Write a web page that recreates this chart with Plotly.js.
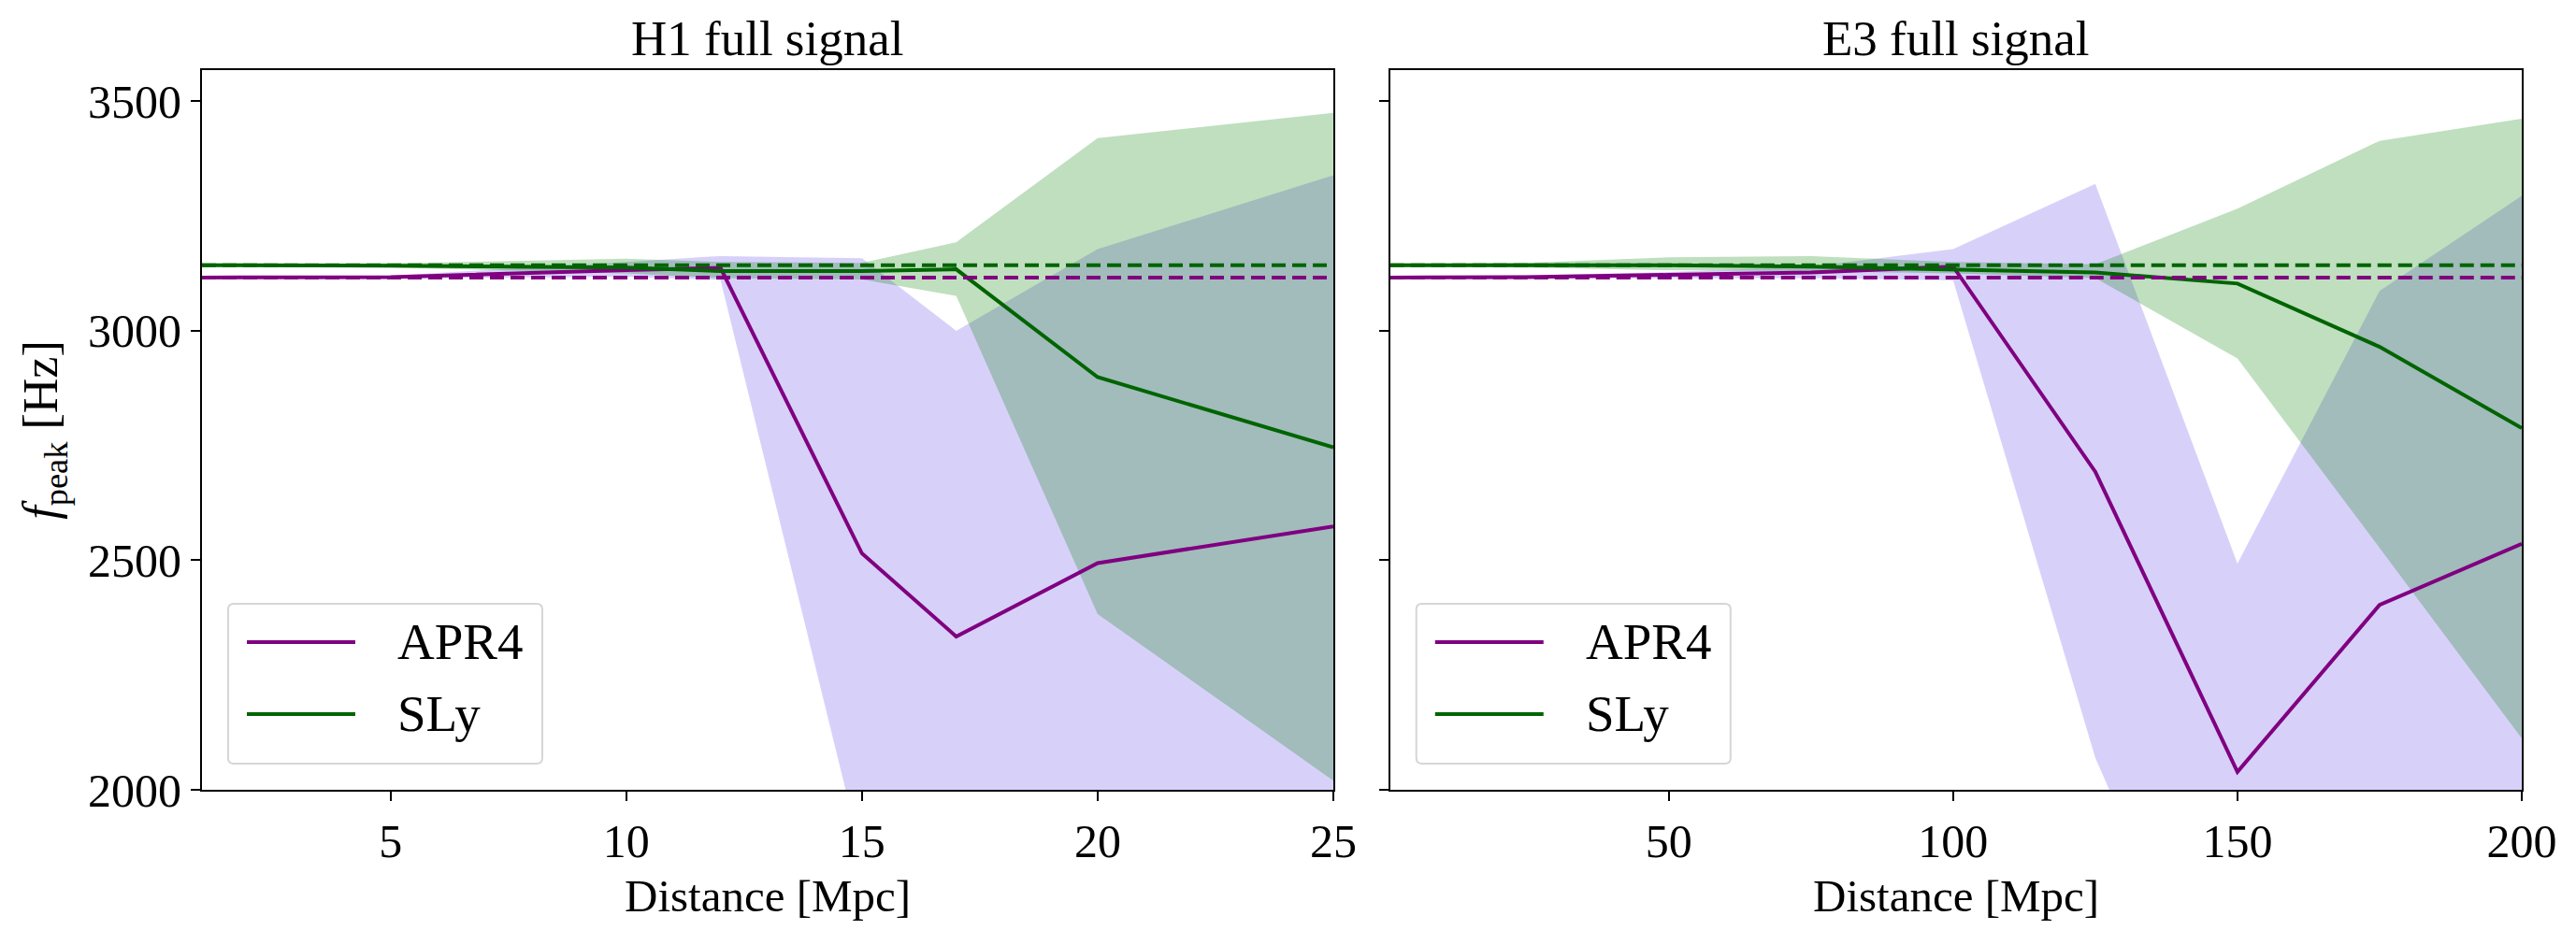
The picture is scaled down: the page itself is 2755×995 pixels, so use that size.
<!DOCTYPE html>
<html>
<head>
<meta charset="utf-8">
<script src="https://cdn.plot.ly/plotly-3.0.1.min.js"></script>
<style>
  html, body { margin: 0; padding: 0; background: #fff; }
  #chart { width: 2755px; height: 995px; }
</style>
</head>
<body>
<div id="chart"></div>
<script>
// ---------- H1 panel data ----------
const h1Dist = [1, 5, 10, 12, 15, 17, 20, 25];
const h1APR4 = [3116, 3117, 3132, 3137, 2515, 2334, 2494, 2574];
const h1APR4Upper = [3119, 3120, 3150, 3163, 3158, 3000, 3178, 3339];
const h1APR4Lower = [3113, 3114, 3118, 3111, 1855, 1700, 1750, 1800];
const h1SLy = [3143, 3142, 3138, 3130, 3130, 3134, 2899, 2746];
const h1SLyUpper = [3145, 3147, 3157, 3150, 3148, 3193, 3420, 3475];
const h1SLyLower = [3140, 3138, 3125, 3115, 3112, 3076, 2383, 2020];

// ---------- E3 panel data ----------
const e3Dist = [1, 25, 50, 75, 100, 125, 150, 175, 200];
const e3APR4 = [3116, 3117, 3122, 3127, 3140, 2693, 2039, 2403, 2536];
const e3APR4Upper = [3119, 3121, 3128, 3140, 3178, 3320, 2493, 3087, 3294];
const e3APR4Lower = [3113, 3113, 3114, 3115, 3110, 2070, 1360, 1500, 1600];
const e3SLy = [3143, 3143, 3143, 3140, 3133, 3127, 3103, 2965, 2788];
const e3SLyUpper = [3145, 3148, 3160, 3163, 3150, 3145, 3266, 3414, 3462];
const e3SLyLower = [3140, 3138, 3132, 3130, 3125, 3115, 2940, 2527, 2112];

// ---------- reference (true) peak frequencies ----------
const trueAPR4 = 3116;
const trueSLy = 3143;

const eosNames = ['APR4', 'SLy'];
const panelTitles = ['H1 full signal', 'E3 full signal'];
const xLabel = 'Distance [Mpc]';
const yLabel = '<i>f</i><sub>peak</sub> [Hz]';
const h1Ticks = [5, 10, 15, 20, 25];
const e3Ticks = [50, 100, 150, 200];
const yTicks = [2000, 2500, 3000, 3500];

const cPurple = '#800080';
const cGreen = '#006400';
const fPurple = 'rgba(123,104,238,0.3)';
const fGreen = 'rgba(0,128,0,0.25)';
const FONT = 'Liberation Serif, Times New Roman, serif';

function band(x, up, lo, color, xa, ya) {
  return {
    x: x.concat(x.slice().reverse()),
    y: up.concat(lo.slice().reverse()),
    fill: 'toself', fillcolor: color, mode: 'lines',
    line: {width: 0, color: 'rgba(0,0,0,0)'},
    xaxis: xa, yaxis: ya, showlegend: false, hoverinfo: 'skip'
  };
}
function line(x, y, color, name, xa, ya) {
  return {
    x: x, y: y, mode: 'lines', name: name,
    line: {color: color, width: 4},
    xaxis: xa, yaxis: ya, showlegend: false
  };
}
function hline(x, val, color, xa, ya) {
  return {
    x: [x[0], x[x.length - 1]], y: [val, val], mode: 'lines',
    line: {color: color, width: 4, dash: '15px,7px'},
    xaxis: xa, yaxis: ya, showlegend: false
  };
}

const traces = [
  band(h1Dist, h1APR4Upper, h1APR4Lower, fPurple, 'x', 'y'),
  band(h1Dist, h1SLyUpper, h1SLyLower, fGreen, 'x', 'y'),
  line(h1Dist, h1APR4, cPurple, eosNames[0], 'x', 'y'),
  line(h1Dist, h1SLy, cGreen, eosNames[1], 'x', 'y'),
  hline(h1Dist, trueAPR4, cPurple, 'x', 'y'),
  hline(h1Dist, trueSLy, cGreen, 'x', 'y'),

  band(e3Dist, e3APR4Upper, e3APR4Lower, fPurple, 'x2', 'y2'),
  band(e3Dist, e3SLyUpper, e3SLyLower, fGreen, 'x2', 'y2'),
  line(e3Dist, e3APR4, cPurple, eosNames[0], 'x2', 'y2'),
  line(e3Dist, e3SLy, cGreen, eosNames[1], 'x2', 'y2'),
  hline(e3Dist, trueAPR4, cPurple, 'x2', 'y2'),
  hline(e3Dist, trueSLy, cGreen, 'x2', 'y2')
];

const axisCommon = {
  showline: true, mirror: true, linecolor: '#000', linewidth: 2,
  ticks: 'outside', ticklen: 10, tickwidth: 2, tickcolor: '#000',
  showgrid: false, zeroline: false,
  tickfont: {family: FONT, size: 50, color: '#000'}
};

// ---------- legend boxes (drawn as shapes + text, matplotlib style) ----------
const legBox = {x0: 0.0231, x1: 0.3008, y0: 0.0364, y1: 0.2584, rx: 0.005, ry: 0.0078};
const legLineX = [0.0397, 0.1355];
const legRowY = [0.2052, 0.1052];
const legTextX = 0.1711;
const legColors = [cPurple, cGreen];

function roundRectPath(b) {
  const {x0, x1, y0, y1, rx, ry} = b;
  return `M${x0 + rx},${y0} L${x1 - rx},${y0} Q${x1},${y0} ${x1},${y0 + ry} ` +
         `L${x1},${y1 - ry} Q${x1},${y1} ${x1 - rx},${y1} L${x0 + rx},${y1} ` +
         `Q${x0},${y1} ${x0},${y1 - ry} L${x0},${y0 + ry} Q${x0},${y0} ${x0 + rx},${y0} Z`;
}

const shapes = [];
const annotations = [];
['x', 'x2'].forEach((xa, p) => {
  const ya = p === 0 ? 'y' : 'y2';
  shapes.push({
    type: 'path', xref: xa + ' domain', yref: ya + ' domain', layer: 'above',
    path: roundRectPath(legBox),
    fillcolor: 'rgba(255,255,255,0.8)', line: {color: '#d6d6d6', width: 2}
  });
  eosNames.forEach((nm, i) => {
    shapes.push({
      type: 'line', xref: xa + ' domain', yref: ya + ' domain', layer: 'above',
      x0: legLineX[0], x1: legLineX[1], y0: legRowY[i], y1: legRowY[i],
      line: {color: legColors[i], width: 4}
    });
    annotations.push({
      text: nm, xref: xa + ' domain', yref: ya + ' domain',
      x: legTextX, y: legRowY[i], xanchor: 'left', yanchor: 'middle', showarrow: false,
      font: {family: FONT, size: 55, color: '#000'}
    });
  });
  // panel title
  annotations.push({
    text: panelTitles[p], xref: xa + ' domain', yref: 'paper', x: 0.5, y: 1.0448,
    xanchor: 'center', yanchor: 'middle', showarrow: false,
    font: {family: FONT, size: 53, color: '#000'}
  });
  // x-axis label
  annotations.push({
    text: xLabel, xref: xa + ' domain', yref: 'paper', x: 0.5, y: -0.148,
    xanchor: 'center', yanchor: 'middle', showarrow: false,
    font: {family: FONT, size: 49, color: '#000'}
  });
});

const layout = {
  width: 2755, height: 995,
  margin: {l: 216, r: 58, t: 75, b: 150},
  paper_bgcolor: '#fff', plot_bgcolor: '#fff',
  font: {family: FONT, color: '#000'},
  showlegend: false,
  xaxis: Object.assign({}, axisCommon, {
    domain: [0, 0.4877], range: [1, 25], tickvals: h1Ticks, anchor: 'y'
  }),
  yaxis: Object.assign({}, axisCommon, {
    range: [2000, 3568], tickvals: yTicks, anchor: 'x',
    title: {text: yLabel, font: {family: FONT, size: 52, color: '#000'}, standoff: 16}
  }),
  xaxis2: Object.assign({}, axisCommon, {
    domain: [0.5122, 1], range: [1, 200], tickvals: e3Ticks, anchor: 'y2'
  }),
  yaxis2: Object.assign({}, axisCommon, {
    range: [2000, 3568], tickvals: yTicks, anchor: 'x2', showticklabels: false, matches: 'y'
  }),
  shapes: shapes,
  annotations: annotations
};

Plotly.newPlot('chart', traces, layout, {displayModeBar: false, responsive: false});
</script>
</body>
</html>
